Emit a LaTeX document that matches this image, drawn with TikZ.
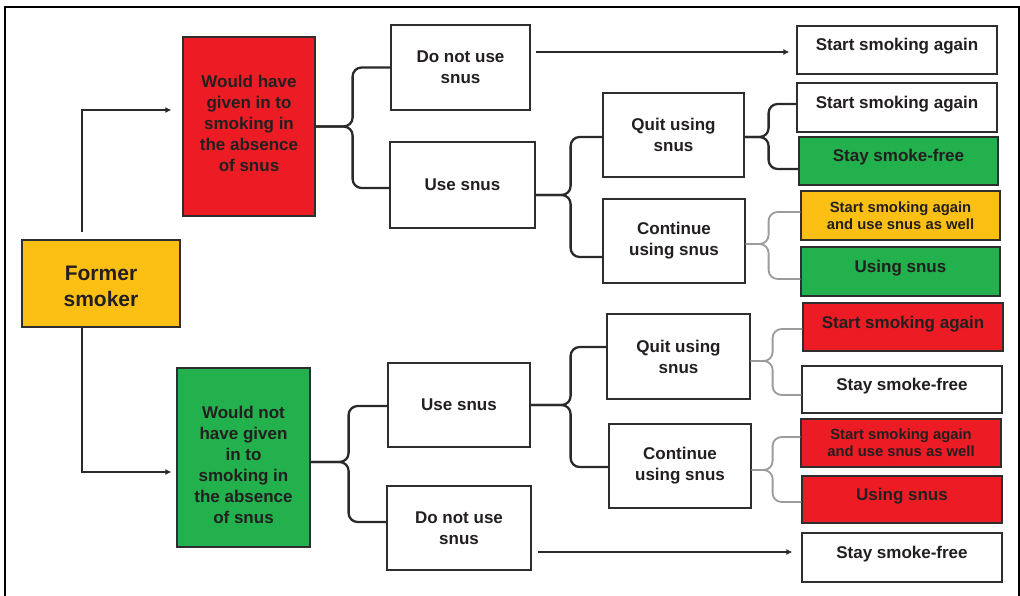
\documentclass[tikz,border=0pt]{standalone}
\usepackage{fontspec}
\setmainfont{Liberation Sans}
\usetikzlibrary{arrows.meta}
\definecolor{cred}{HTML}{ED1C24}
\definecolor{cgreen}{HTML}{22B14C}
\definecolor{cyellow}{HTML}{FCBF14}
\definecolor{ctext}{HTML}{231F20}
\definecolor{cborder}{HTML}{2E2E2E}
\definecolor{cline}{HTML}{2A2A2A}
\definecolor{cgray}{HTML}{9C9C9C}
\begin{document}
\begin{tikzpicture}[x=1pt,y=-1pt,
  box/.style={draw=cborder, line width=1.2pt, inner sep=0pt, align=center, text=ctext,
    font=\bfseries\fontsize{17}{21}\selectfont},
  mid/.style={box, minimum width=142pt, minimum height=85pt},
  res/.style={box, minimum width=200pt, minimum height=48pt},
  raised/.style={text height=12pt, text depth=10pt},
  small/.style={font=\bfseries\fontsize{14.8}{17}\selectfont},
  lbl/.style={align=center, text=ctext, inner sep=0pt, font=\bfseries\fontsize{17}{21}\selectfont},
  arr/.style={draw=cline, line width=2pt, -{Latex[length=6pt,width=6pt]}},
  brc/.style={draw=cline, line width=2.3pt, rounded corners=9pt},
  brcg/.style={draw=cgray, line width=1.8pt, rounded corners=9pt}]
\useasboundingbox (0,0) rectangle (1020,596);
\fill[white] (0,0) rectangle (1020,596);
\draw[line width=2.5pt, black] (5,596) -- (5,7) -- (1019,7) -- (1019,596);

% first column
\node[box, minimum width=158pt, minimum height=87pt, fill=cyellow,
  label={[lbl, yshift=-3pt, font=\bfseries\fontsize{21}{26}\selectfont]center:Former\\smoker}] (fs) at (101,283.5) {};
\node[box, minimum width=132pt, minimum height=179pt, fill=cred,
  label={[lbl, yshift=3pt]center:Would have\\given in to\\smoking in\\the absence\\of snus}] (red) at (249,126.5) {};
\node[box, minimum width=133pt, minimum height=179pt, fill=cgreen,
  label={[lbl, yshift=-7pt]center:Would not\\have given\\in to\\smoking in\\the absence\\of snus}] (green) at (243.5,457.5) {};

% second column
\node[mid, minimum width=139pt] (dn1) at (460.5,67.5) {Do not use\\snus};
\node[mid, minimum width=145pt, minimum height=86pt] (us1) at (462.5,185) {Use snus};
\node[mid, minimum height=84pt] (us2) at (459,405) {Use snus};
\node[mid, minimum width=144pt, minimum height=84pt] (dn2) at (459,528) {Do not use\\snus};

% third column
\node[mid, minimum width=141pt, minimum height=84pt] (q1) at (673.5,135) {Quit using\\snus};
\node[mid, minimum height=84pt] (c1) at (674,241) {Continue\\using snus};
\node[mid, minimum width=143pt] (q2) at (678.5,356.5) {Quit using\\snus};
\node[mid, minimum height=84pt] (c2) at (680,466) {Continue\\using snus};

% outcomes
\node[res, raised] (r1) at (897,50) {Start smoking again};
\node[res, raised, minimum height=49pt] (r2) at (897,107.5) {Start smoking again};
\node[res, raised, fill=cgreen, minimum width=199pt] (r3) at (898.5,161) {Stay smoke-free};
\node[res, small, fill=cyellow, minimum width=199pt, minimum height=49pt] (r4) at (900.5,215.5)
  {Start smoking again\\and use snus as well};
\node[res, raised, fill=cgreen, minimum width=199pt, minimum height=49pt] (r5) at (900.5,271.5) {Using snus};
\node[res, raised, fill=cred] (r6) at (903,327) {Start smoking again};
\node[res, raised, minimum height=47pt] (r7) at (902,389.5) {Stay smoke-free};
\node[res, small, fill=cred] (r8) at (901,443) {Start smoking again\\and use snus as well};
\node[res, raised, fill=cred, minimum height=47pt] (r9) at (902,499.5) {Using snus};
\node[res, raised, minimum height=49pt] (r10) at (902,557.5) {Stay smoke-free};

% arrows
\draw[arr] ([xshift=-19pt,yshift=7pt]fs.north) |- ([xshift=-11pt,yshift=16.5pt]red.west);
\draw[arr] ([xshift=-19pt]fs.south) |- ([xshift=-5pt,yshift=-14.5pt]green.west);
\draw[arr] ([xshift=5pt,yshift=15.5pt]dn1.east) -- ([xshift=-7pt,yshift=-2pt]r1.west);
\draw[arr] ([xshift=6pt,yshift=-24pt]dn2.east) -- ([xshift=-9pt,yshift=5.5pt]r10.west);

% braces
\draw[brc] (red.east) -- ++(37pt,0) |- (dn1.west);
\draw[brc] (red.east) -- ++(37pt,0) |- ([yshift=-3pt]us1.west);
\draw[brc] ([yshift=-10pt]us1.east) -- ++(35pt,0) |- ([yshift=-2pt]q1.west);
\draw[brc] ([yshift=-10pt]us1.east) -- ++(35pt,0) |- ([yshift=-16pt]c1.west);
\draw[brc] (us2.east) -- ++(40pt,0) |- ([yshift=9.5pt]q2.west);
\draw[brc] (us2.east) -- ++(40pt,0) |- ([yshift=-1pt]c2.west);
\draw[brc] ([yshift=-4.5pt]green.east) -- ++(38pt,0) |- ([yshift=-1pt]us2.west);
\draw[brc] ([yshift=-4.5pt]green.east) -- ++(38pt,0) |- ([yshift=6pt]dn2.west);
\draw[brc] ([yshift=-2pt]q1.east) -- ++(24pt,0) |- ([yshift=3.5pt]r2.west);
\draw[brc] ([yshift=-2pt]q1.east) -- ++(24pt,0) |- ([yshift=-8pt]r3.west);
\draw[brcg] ([yshift=-3pt]c1.east) -- ++(23pt,0) |- ([yshift=3.5pt]r4.west);
\draw[brcg] ([yshift=-3pt]c1.east) -- ++(23pt,0) |- ([yshift=-7.5pt]r5.west);
\draw[brcg] ([yshift=-4.5pt]q2.east) -- ++(22pt,0) |- ([yshift=-2pt]r6.west);
\draw[brcg] ([yshift=-4.5pt]q2.east) -- ++(22pt,0) |- ([yshift=-5.5pt]r7.west);
\draw[brcg] ([yshift=-4pt]c2.east) -- ++(21pt,0) |- ([yshift=6pt]r8.west);
\draw[brcg] ([yshift=-4pt]c2.east) -- ++(21pt,0) |- ([yshift=-2.5pt]r9.west);
\end{tikzpicture}
\end{document}
